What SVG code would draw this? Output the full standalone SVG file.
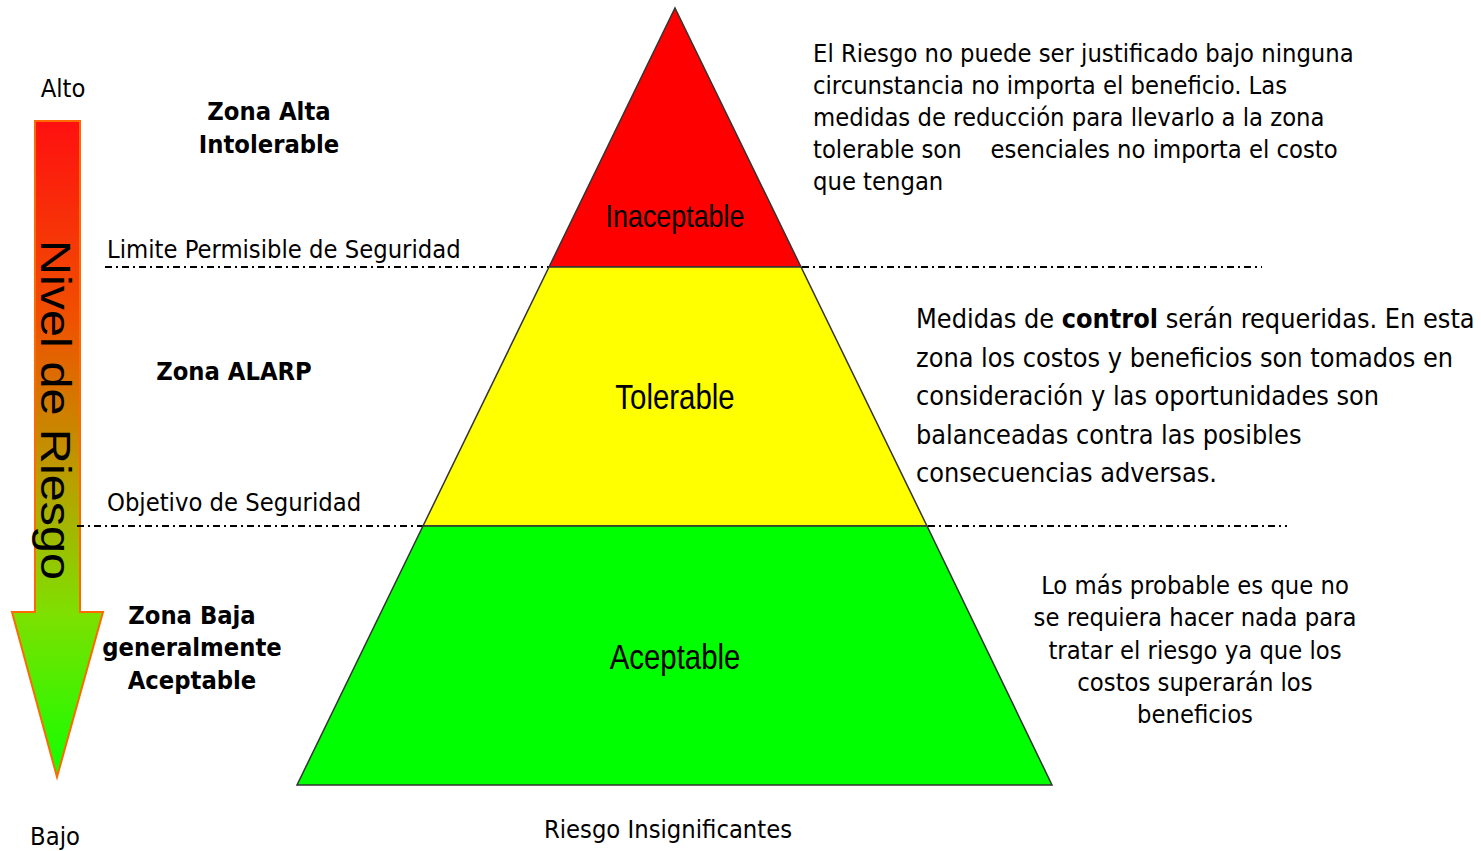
<svg xmlns="http://www.w3.org/2000/svg" width="1481" height="851" viewBox="0 0 1481 851">
<style>
.t{font-family:"DejaVu Sans Condensed","DejaVu Sans",sans-serif;font-size:25.3px;fill:#000}
.b{font-family:"DejaVu Sans Condensed","DejaVu Sans",sans-serif;font-size:25.3px;font-weight:bold;fill:#000;text-anchor:middle}
.m{font-family:"DejaVu Sans Condensed","DejaVu Sans",sans-serif;font-size:26.8px;fill:#000}
.p{font-family:"Liberation Sans",Arial,sans-serif;fill:#000;text-anchor:middle}
.dl{stroke:#000;stroke-width:2;stroke-dasharray:7,4,2,4;fill:none}
.lay{stroke:#333;stroke-width:1.5}
</style>
<defs>
<linearGradient id="g" x1="0" y1="0" x2="0" y2="1">
<stop offset="0" stop-color="#ff1010"/>
<stop offset="0.3" stop-color="#f05000"/>
<stop offset="0.55" stop-color="#b8a000"/>
<stop offset="0.75" stop-color="#7ee000"/>
<stop offset="1" stop-color="#10ff00"/>
</linearGradient>
</defs>
<g id="arrow">
<path d="M35,121 H80 V612 H103 L57,777 L12,612 H35 Z" fill="url(#g)" stroke="#ff6a00" stroke-width="2"/>
<text transform="translate(41,240) rotate(90)" font-family="Liberation Sans,Arial,sans-serif" font-size="42" fill="#000" textLength="340" lengthAdjust="spacingAndGlyphs">Nivel de Riesgo</text>
</g>
<g id="connectors">
<line class="dl" x1="105" y1="267" x2="566" y2="267"/>
<line class="dl" x1="802" y1="267" x2="1262" y2="267"/>
<line class="dl" x1="77" y1="526" x2="440" y2="526"/>
<line class="dl" x1="928" y1="526" x2="1287" y2="526"/>
</g>
<g id="inaceptable">
<polygon class="lay" points="675,8 801,267 549,267" fill="#ff0000"/>
<text class="p" font-size="32" transform="translate(675,227) scale(0.84,1)">Inaceptable</text>
</g>
<g id="tolerable">
<polygon class="lay" points="549,267 801,267 927,526 423,526" fill="#ffff00"/>
<text class="p" font-size="35" transform="translate(675,409) scale(0.84,1)">Tolerable</text>
</g>
<g id="aceptable">
<polygon class="lay" points="423,526 927,526 1052,785 297,785" fill="#00ff00"/>
<text class="p" font-size="35" transform="translate(675,669) scale(0.84,1)">Aceptable</text>
</g>
<g id="labels">
<text class="t" x="63" y="97" text-anchor="middle" font-size="26">Alto</text>
<text class="t" x="55" y="845" text-anchor="middle" font-size="26">Bajo</text>
<text class="b" x="269" y="120">Zona Alta</text>
<text class="b" x="269" y="153">Intolerable</text>
<text class="t" x="107" y="258">Limite Permisible de Seguridad</text>
<text class="b" x="234" y="380">Zona ALARP</text>
<text class="t" x="107" y="511">Objetivo de Seguridad</text>
<text class="b" x="192" y="624">Zona Baja</text>
<text class="b" x="192" y="656">generalmente</text>
<text class="b" x="192" y="689">Aceptable</text>
<text class="t" x="668" y="838" text-anchor="middle">Riesgo Insignificantes</text>
</g>
<g id="desc-top">
<text class="t" x="813" y="62">El Riesgo no puede ser justificado bajo ninguna</text>
<text class="t" x="813" y="94">circunstancia no importa el beneficio. Las</text>
<text class="t" x="813" y="126">medidas de reducción para llevarlo a la zona</text>
<text class="t" x="813" y="158" xml:space="preserve">tolerable son    esenciales no importa el costo</text>
<text class="t" x="813" y="190">que tengan</text>
</g>
<g id="desc-mid">
<text class="m" x="916" y="328">Medidas de <tspan font-weight="bold">control</tspan> serán requeridas. En esta</text>
<text class="m" x="916" y="367">zona los costos y beneficios son tomados en</text>
<text class="m" x="916" y="405">consideración y las oportunidades son</text>
<text class="m" x="916" y="444">balanceadas contra las posibles</text>
<text class="m" x="916" y="482">consecuencias adversas.</text>
</g>
<g id="desc-bot">
<text class="t" x="1195" y="594" text-anchor="middle">Lo más probable es que no</text>
<text class="t" x="1195" y="626" text-anchor="middle">se requiera hacer nada para</text>
<text class="t" x="1195" y="659" text-anchor="middle">tratar el riesgo ya que los</text>
<text class="t" x="1195" y="691" text-anchor="middle">costos superarán los</text>
<text class="t" x="1195" y="723" text-anchor="middle">beneficios</text>
</g>
</svg>
